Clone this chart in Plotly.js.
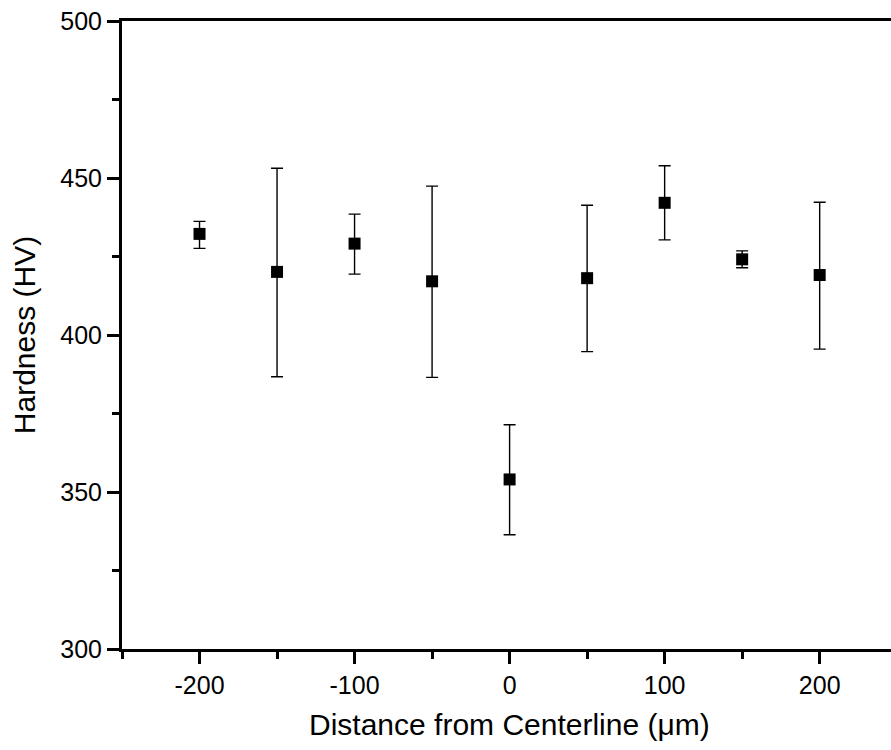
<!DOCTYPE html>
<html><head><meta charset="utf-8">
<script src="https://cdn.plot.ly/plotly-3.0.1.min.js"></script>
<style>html,body{margin:0;padding:0;overflow:hidden;background:#fff}</style>
</head><body><div id="chart" style="width:891px;height:750px"></div>
<script>
const distance = [-200, -150, -100, -50, 0, 50, 100, 150, 200];
const hardness = [432.2, 420.1, 429.1, 417.1, 354.0, 418.1, 442.1, 424.1, 419.1];
const errUpper = [436.2, 453.1, 438.5, 447.4, 371.4, 441.3, 453.9, 426.8, 442.3];
const errLower = [427.6, 386.7, 419.4, 386.5, 336.4, 394.7, 430.3, 421.4, 395.5];
const xTicks = [-200, -100, 0, 100, 200];
const yTicks = [300, 350, 400, 450, 500];
const xTitle = 'Distance from Centerline (μm)';
const yTitle = 'Hardness (HV)';

const plus = errUpper.map((u, i) => u - hardness[i]);
const minus = errLower.map((l, i) => hardness[i] - l);

const trace = {
  x: distance, y: hardness, type: 'scatter', mode: 'markers',
  marker: {symbol: 'square', size: 12, color: '#000'},
  error_y: {type: 'data', symmetric: false, array: plus, arrayminus: minus,
            color: '#000', thickness: 1.4, width: 6},
  showlegend: false, cliponaxis: false
};

const fam = "'Liberation Sans', Arial, sans-serif";
const layout = {
  width: 891, height: 750,
  margin: {l: 122, r: 0, t: 21, b: 101},
  paper_bgcolor: '#fff', plot_bgcolor: '#fff',
  font: {family: fam, color: '#000'},
  xaxis: {
    range: [-250, 246], tickvals: xTicks, ticktext: xTicks.map(String),
    showgrid: false, zeroline: false,
    showline: true, linecolor: '#000', linewidth: 3, mirror: true,
    ticks: 'outside', ticklen: 12, tickwidth: 3, tickcolor: '#000',
    minor: {dtick: 50, tick0: 0, ticks: 'outside', ticklen: 7, tickwidth: 3, tickcolor: '#000', showgrid: false},
    tickfont: {size: 25, family: fam, color: '#000'}
  },
  yaxis: {
    range: [300, 500], tickvals: yTicks, ticktext: yTicks.map(String),
    showgrid: false, zeroline: false,
    showline: true, linecolor: '#000', linewidth: 3,
    ticks: 'outside', ticklen: 12, tickwidth: 3, tickcolor: '#000',
    minor: {dtick: 25, tick0: 0, ticks: 'outside', ticklen: 7, tickwidth: 3, tickcolor: '#000', showgrid: false},
    tickfont: {size: 25, family: fam, color: '#000'},
    title: {text: yTitle, font: {size: 30, family: fam, color: '#000'}, standoff: 16}
  },
  annotations: [{
    text: xTitle, xref: 'x', x: 0, yref: 'paper', y: -0.121,
    xanchor: 'center', yanchor: 'middle', showarrow: false,
    font: {size: 30, family: fam, color: '#000'}
  }]
};
Plotly.newPlot('chart', [trace], layout, {displayModeBar: false, staticPlot: true});
</script></body></html>
